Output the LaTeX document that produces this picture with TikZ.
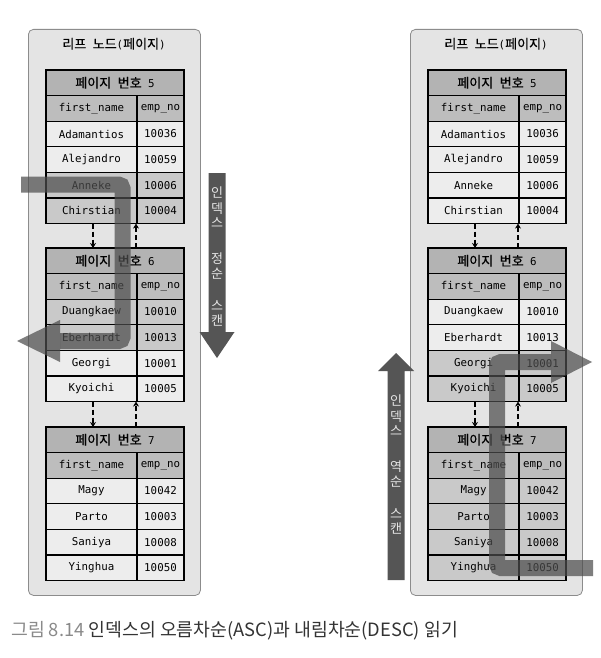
\documentclass[tikz,border=0pt]{standalone}
\usepackage{fontspec}
\setmonofont{DejaVu Sans Mono}
\newfontfamily\kr{Noto Sans CJK KR}
\newfontfamily\krt{Noto Sans CJK KR}[FakeBold=0.5]
\usetikzlibrary{arrows.meta}
\definecolor{boxfill}{HTML}{E4E4E4}
\definecolor{boxline}{HTML}{8C8C8C}
\definecolor{hdrfill}{HTML}{B3B3B3}
\definecolor{colhdr}{HTML}{BDBDBD}
\definecolor{rowlt}{HTML}{EDEDED}
\definecolor{rowhi}{HTML}{C9C9C9}
\definecolor{scan}{HTML}{4D4D4D}
\definecolor{varrowc}{HTML}{555555}
\definecolor{vtext}{HTML}{E6E6E6}
\definecolor{capgray}{HTML}{8A8A8A}
\definecolor{captext}{HTML}{333333}
\newcommand\ksp{\hspace{6.5pt}}
\newcommand\K[1]{{\krt\fontsize{13}{13}\selectfont #1}}
\tikzset{
  cellbase/.style={draw=black, line width=1.2pt, inner sep=0pt, outer sep=0pt,
     minimum height=25.6pt, anchor=north west, font=\ttfamily\fontsize{10.8}{12}\selectfont},
  hdrcell/.style={cellbase, minimum width=138pt, fill=hdrfill},
  cellA/.style={cellbase, minimum width=91pt},
  cellB/.style={cellbase, minimum width=47pt},
  leafbox/.style={draw=boxline, line width=0.8pt, fill=boxfill, rounded corners=5pt,
     minimum width=172pt, minimum height=566pt, anchor=north west, inner sep=0pt},
  leaftitle/.style={font=\ttfamily\fontsize{10.8}{12}\selectfont, inner sep=0pt},
  dnarr/.style={line width=1.4pt, dash pattern=on 5pt off 3pt, -{Stealth[length=5pt,width=6pt]}},
  scanbar/.style={draw=scan, draw opacity=0.72, line width=16pt, rounded corners=4pt},
  scanhead/.style={fill=scan, fill opacity=0.72},
  varrow/.style={fill=varrowc},
  vchar/.style={text=vtext, font=\kr\fontsize{13}{13}\selectfont, inner sep=0pt},
}
\newcommand\pagetab[5]{%
  \node[hdrcell] (#1h) at (#2,#3) {\K{페이지}\ksp\K{번호}\ksp #4};
  \node[cellA, fill=colhdr] (#1ca) at (#2,#3+25.6) {first\_name};
  \node[cellB, fill=colhdr] (#1cb) at (#2+91,#3+25.6) {emp\_no};
  \foreach \nm/\no/\fl [count=\i] in {#5} {
    \pgfmathsetmacro\yy{#3+(\i+1)*25.6}
    \node[cellA, fill=\fl] (#1r\i-a) at (#2,\yy) {\nm};
    \node[cellB, fill=\fl] (#1r\i-b) at (#2+91,\yy) {\no};
  }
}
\begin{document}
\begin{tikzpicture}[x=1pt,y=-1pt]
\useasboundingbox (0,0) rectangle (600,658);
\fill[white] (0,0) rectangle (600,658);

% leaf boxes
\node[leafbox] (Lbox) at (28,29) {};
\node[leafbox] (Rbox) at (410,29) {};
\node[leaftitle] (Ltitle) at (114,44) {\K{리프}\ksp\K{노드}(\K{페이지})};
\node[leaftitle] (Rtitle) at (496,44) {\K{리프}\ksp\K{노드}(\K{페이지})};

% left tables
\pagetab{L5}{46}{70}{5}{Adamantios/10036/rowlt, Alejandro/10059/rowlt, Anneke/10006/rowhi, Chirstian/10004/rowhi}
\pagetab{L6}{46}{248}{6}{Duangkaew/10010/rowhi, Eberhardt/10013/rowhi, Georgi/10001/rowlt, Kyoichi/10005/rowlt}
\pagetab{L7}{46}{427}{7}{Magy/10042/rowlt, Parto/10003/rowlt, Saniya/10008/rowlt, Yinghua/10050/rowlt}
% right tables
\pagetab{R5}{428}{70}{5}{Adamantios/10036/rowlt, Alejandro/10059/rowlt, Anneke/10006/rowlt, Chirstian/10004/rowlt}
\pagetab{R6}{428}{248}{6}{Duangkaew/10010/rowlt, Eberhardt/10013/rowlt, Georgi/10001/rowhi, Kyoichi/10005/rowhi}
\pagetab{R7}{428}{427}{7}{Magy/10042/rowhi, Parto/10003/rowhi, Saniya/10008/rowhi, Yinghua/10050/rowhi}

% page links
\foreach \p/\q in {L5/L6, L6/L7, R5/R6, R6/R7} {
  \draw[dnarr] ([xshift=1.5pt]\p r4-a.south) -- ([xshift=1.5pt]\p r4-a.south |- \q h.north);
  \draw[dnarr] ([xshift=-1pt]\p r4-b.south west |- \q h.north) -- ([xshift=-1pt]\p r4-b.south west);
}

% left scan (ascending)
\coordinate (ls0) at (21,184.5);
\coordinate (ls1) at (122.5,184.5);
\coordinate (ls2) at (122.5,341);
\coordinate (ls3) at (60,341);
\draw[scanbar] (ls0) -- (ls1) -- (ls2) -- (ls3);
\fill[scanhead] (60,320) -- (17,341) -- (60,362) -- cycle;

% right scan (descending)
\coordinate (rs0) at (593,568);
\coordinate (rs1) at (497,568);
\coordinate (rs2) at (497,362);
\coordinate (rs3) at (551,362);
\draw[scanbar] (rs0) -- (rs1) -- (rs2) -- (rs3);
\fill[scanhead] (551,341) -- (592,362) -- (551,383) -- cycle;

% vertical labelled arrows
\fill[varrow] (208.5,173) -- (225.5,173) -- (225.5,332) -- (234.5,332) -- (217,358) -- (199.5,332) -- (208.5,332) -- cycle;
\fill[varrow] (387.5,580) -- (404.5,580) -- (404.5,371) -- (414,371) -- (396,353) -- (378,371) -- (387.5,371) -- cycle;
\foreach \c/\d [count=\k] in {인/0, 덱/16, 스/30, 정/66, 순/81, 스/113, 캔/128} {
  \node[vchar] (asc\k) at (217,193+\d) {\c};
}
\foreach \c/\d [count=\k] in {인/0, 덱/16, 스/30, 역/66, 순/81, 스/113, 캔/128} {
  \node[vchar] (desc\k) at (396,401+\d) {\c};
}

% caption
\node[anchor=west, inner sep=0pt, font=\kr\fontsize{18.3}{21}\selectfont] (cap) at (11,631)
  {\textcolor{capgray}{그림 8.14} \textcolor{captext}{인덱스의 오름차순(ASC)과 내림차순(DESC) 읽기}};
\end{tikzpicture}
\end{document}
